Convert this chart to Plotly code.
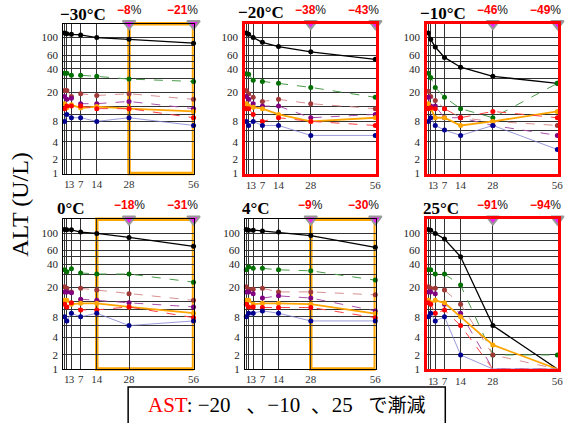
import math
import plotly.graph_objects as go

# ---------------- data ----------------
DAYS = [0, 1, 3, 7, 14, 28, 56]
TEMPS = ["−30°C", "−20°C", "−10°C", "0°C", "4°C", "25°C"]
PCT_28 = ["−8", "−38", "−46", "−18", "−9", "−91"]
PCT_56 = ["−21", "−43", "−49", "−31", "−30", "−94"]
X_TICKS = [1, 3, 7, 14, 28, 56]
Y_TICKS = [1, 2, 4, 8, 20, 40, 60, 100]
Y_GRID_EXTRA = [6, 10, 13, 30, 50, 80]

# one list per panel (-30, -20, -10, 0, 4, 25 °C)
BLACK = [
    [114, 112, 110, 108, 100, 95, 85],
    [114, 110, 100, 87, 77, 66, 53],
    [114, 95, 76, 56, 42, 32, 26],
    [111, 110, 110, 103, 99, 88, 68],
    [111, 109, 109, 106, 103, 93, 66],
    [111, 109, 99, 84, 50, 6, 1],
]
GREEN = [
    [35, 35, 33, 33, 32, 29.5, 27.5],
    [34.5, 34, 28.5, 27.5, 26, 23, 17],
    [35, 31, 23, 17, 12, 9, 26],
    [34, 32, 35, 31, 30, 30, 23.5],
    [34, 37, 35.5, 35.5, 34, 33, 25],
    [34, 34, 30, 30, 21.5, 2, 2],
]
BROWN = [
    [21, 21, 17.5, 19, 18, 19, 16],
    [21, 19, 17, 15, 16, 14, 12],
    [20.5, 17.5, 15.5, 12, 9, 8, 7],
    [20.5, 19.5, 17.5, 19.5, 18.5, 16.5, 13.5],
    [20.5, 19, 19, 19.5, 17.5, 17.5, 16],
    [20.5, 19.5, 19.5, 18.5, 12, 2, 1],
]
PURPLE = [
    [17.5, 16, 16.5, 14, 14, 15, 12],
    [17.5, 16, 14, 13, 13, 9, 10],
    [17, 13, 13, 9, 9, 7, 5],
    [17.5, 17.5, 17, 14, 13.5, 12.5, 11],
    [17.5, 17.5, 16.5, 14.5, 15.5, 14.5, 9.7],
    [17.5, 17.5, 16.5, 12, 9, 1, 1],
]
ORANGE = [
    [14, 12.3, 13.5, 12.2, 12.8, 12, 11],
    [14, 13, 12.5, 12, 10, 8, 9],
    [14, 12, 9, 9, 7, 8, 11],
    [13.5, 13.5, 12, 12.3, 12.3, 11, 9],
    [13.5, 13.5, 12, 12.3, 12.3, 12, 8.9],
    [13.5, 12.5, 13.5, 12.5, 8, 3, 1],
]
RED = [
    [12, 13, 13, 13, 12, 12, 9],
    [12, 12, 10, 8, 9, 8, 7],
    [12, 12.3, 12, 12, 9, 11, 9],
    [12, 11, 12.5, 10, 10, 11, 7.8],
    [12, 11, 11, 10.8, 10.8, 10.8, 7.8],
    [12.5, 12, 9, 10, 6, 1, 1],
]
NAVY = [
    [8, 10, 9, 9, 8, 9, 7],
    [8, 7, 8, 7, 7, 5, 5],
    [8, 9, 7, 6, 5, 7, 3],
    [8, 7, 9, 8, 9, 6, 7],
    [8, 9, 9, 9.7, 9, 7, 7],
    [8, 9, 7, 8, 2, 1, 1],
]

HIGHLIGHT = ["orange", "red", "red", "orange", "orange", "red"]
BOX_START = [28, None, None, 14, 28, None]

# ---------------- styles ----------------
W, H = 573, 423
COLS = [(63.8, 195.8), (247.5, 379.5), (431.5, 563.5)]
ROWS = [(24.0, 176.0), (222.3, 374.3)]
SERIF = "Liberation Serif, Times New Roman, serif"
SANS = "Liberation Sans, Arial, sans-serif"

SERIES = [
    (BLACK, "#000000", "#000000", "solid", 1.3),
    (GREEN, "#007000", "#4a9a4a", "dash", 1.0),
    (BROWN, "#a03838", "#d89090", "dash", 1.0),
    (PURPLE, "#800080", "#a850a8", "dash", 1.0),
    (ORANGE, "#ffa500", "#ffa500", "solid", 1.8),
    (RED, "#ff0000", "#ff4040", "dash", 1.0),
    (NAVY, "#000090", "#8080d0", "solid", 0.8),
]


def px_x(p):
    return p / W


def px_y(p):
    return 1 - p / H


fig = go.Figure()
layout = dict(
    width=W, height=H, margin=dict(l=0, r=0, t=0, b=0),
    paper_bgcolor="white", plot_bgcolor="white", showlegend=False,
)
shapes = []
annotations = []

for k in range(6):
    r, c = divmod(k, 3)
    sfx = "" if k == 0 else str(k + 1)
    xa, ya = "x" + sfx, "y" + sfx
    red = HIGHLIGHT[k] == "red"
    lc = "#ff0000" if red else "#000000"
    lw = 2.5 if red else 1
    layout["xaxis" + sfx] = dict(
        domain=[px_x(COLS[c][0]), px_x(COLS[c][1])], anchor=ya,
        range=[-0.6, 56.1], tickvals=X_TICKS, ticktext=[str(t) for t in X_TICKS],
        tickangle=0, showgrid=True, gridcolor="#333333", gridwidth=1,
        minor=dict(tickvals=[0], showgrid=True, gridcolor="#333333", gridwidth=1, ticks=""),
        showline=True, mirror=True, linecolor=lc, linewidth=lw, zeroline=False,
        ticks="", tickfont=dict(family=SERIF, size=11, color="#333333"),
    )
    layout["yaxis" + sfx] = dict(
        domain=[px_y(ROWS[r][1]), px_y(ROWS[r][0])], anchor=xa, type="log",
        range=[math.log10(2), math.log10(151)],
        tickvals=[t + 1 for t in Y_TICKS], ticktext=[str(t) for t in Y_TICKS],
        showgrid=True, gridcolor="#333333", gridwidth=1,
        minor=dict(tickvals=[t + 1 for t in Y_GRID_EXTRA], showgrid=True,
                   gridcolor="#333333", gridwidth=1, ticks=""),
        showline=True, mirror=True, linecolor=lc, linewidth=lw, zeroline=False,
        ticks="outside", ticklen=2, tickcolor="rgba(0,0,0,0)",
        tickfont=dict(family=SERIF, size=11, color="#222222"),
    )

    # orange highlight box
    if BOX_START[k] is not None:
        shapes.append(dict(type="rect", xref=xa, yref=ya + " domain",
                           x0=BOX_START[k], x1=56, y0=0, y1=1,
                           line=dict(color="#ffa500", width=3.5), layer="below"))

    for vals, mc, lcol, dash, w in SERIES:
        fig.add_trace(go.Scatter(
            x=DAYS, y=[v + 1 for v in vals[k]], xaxis=xa, yaxis=ya,
            mode="lines+markers", cliponaxis=False,
            line=dict(color=lcol, width=w, dash=dash),
            marker=dict(color=mc, size=5),
        ))

    # triangles at top
    fig.add_trace(go.Scatter(
        x=[28, 56], y=[151, 151], xaxis=xa, yaxis=ya, mode="markers",
        cliponaxis=False,
        marker=dict(symbol="triangle-down", size=11, color="#ee22ee",
                    line=dict(color="#999999", width=2)),
    ))

    # percent labels
    annotations.append(dict(
        xref=xa, yref=ya + " domain", x=28, y=1, xanchor="center",
        yanchor="bottom", yshift=5, showarrow=False,
        text="<span style='color:#ff0000'><b>%s</b></span>%%" % PCT_28[k],
        font=dict(family=SANS, size=12, color="#111111"),
    ))
    annotations.append(dict(
        xref=xa, yref=ya + " domain", x=56, y=1, yanchor="bottom", yshift=5,
        xanchor="right", xshift=6, showarrow=False,
        text="<span style='color:#ff0000'><b>%s</b></span>%%" % PCT_56[k],
        font=dict(family=SANS, size=12, color="#111111"),
    ))

# titles
TITLE_POS = [(59, 15), (238, 13), (422, 14), (56, 211), (243, 211), (425, 211)]
for k, (tx, ty) in enumerate(TITLE_POS):
    annotations.append(dict(
        xref="paper", yref="paper", x=px_x(tx), y=px_y(ty),
        xanchor="left", yanchor="middle", showarrow=False,
        text="<b>%s</b>" % TEMPS[k],
        font=dict(family=SERIF, size=17, color="#000000"),
    ))

# y-axis title
annotations.append(dict(
    xref="paper", yref="paper", x=px_x(20), y=px_y(207), textangle=-90,
    xanchor="center", yanchor="middle",
    showarrow=False, text="ALT (U/L)",
    font=dict(family=SERIF, size=24, color="#000000"),
))

# bottom note box
shapes.append(dict(type="rect", xref="paper", yref="paper",
                   x0=px_x(129.5), x1=px_x(450), y0=px_y(392.5), y1=-0.05,
                   line=dict(color="#000000", width=1.5), layer="above"))
NB = "\u00a0"
annotations.append(dict(
    xref="paper", yref="paper", x=px_x(147.5), y=px_y(411),
    xanchor="left", yanchor="middle", showarrow=False,
    text=("<span style='color:#ff0000'>AST</span>: −20" + NB * 3 + "、−10" + NB * 2
          + "、25" + NB * 3 + "<span style='font-size:19px'>で漸減</span>"),
    font=dict(family="Liberation Serif, Noto Sans CJK JP", size=21, color="#000000"),
))

layout["shapes"] = shapes
layout["annotations"] = annotations
fig.update_layout(**layout)
fig.write_html("out.html", config={"displayModeBar": False},
               post_script="document.body.style.margin='0px';")
